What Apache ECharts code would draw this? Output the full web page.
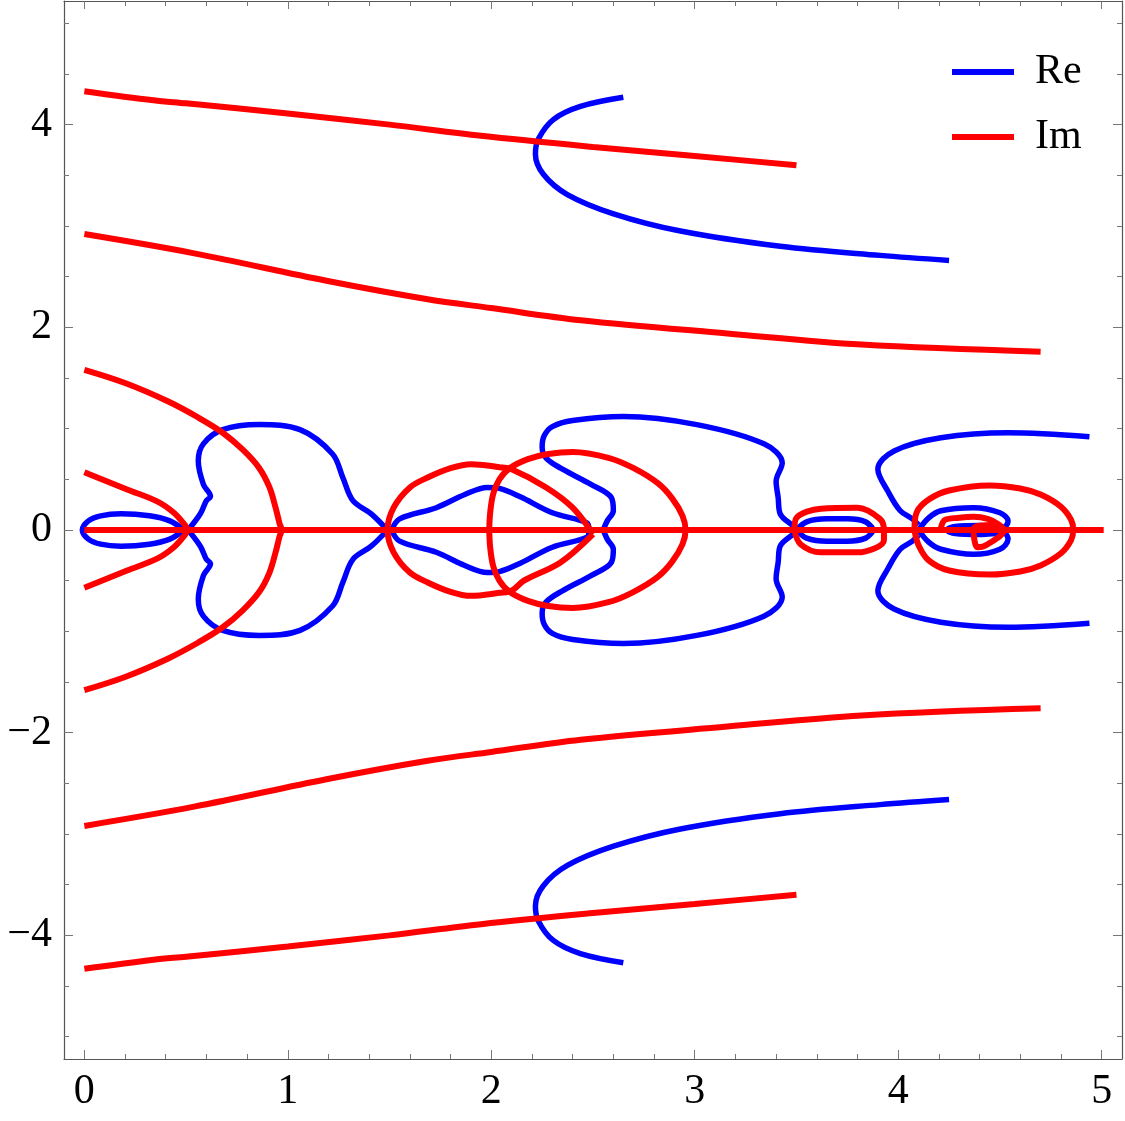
<!DOCTYPE html>
<html>
<head>
<meta charset="utf-8">
<script src="https://cdn.jsdelivr.net/npm/echarts@6/dist/echarts.min.js"></script>
<style>html,body{margin:0;padding:0;background:#fff}#c{width:1125px;height:1121px}</style>
</head>
<body>
<div id="c"></div>
<script>
// ---------- axis data ----------
const xRange = [-0.1, 5.1];
const yRange = [-5.22, 5.22];
const xMajor = [0, 1, 2, 3, 4, 5];
const xMinor = [0.2, 0.4, 0.6, 0.8, 1.2, 1.4, 1.6, 1.8, 2.2, 2.4, 2.6, 2.8, 3.2, 3.4, 3.6, 3.8, 4.2, 4.4, 4.6, 4.8];
const yMajor = [-4, -2, 0, 2, 4];
const yMinor = [-5, -4.5, -3.5, -3, -2.5, -1.5, -1, -0.5, 0.5, 1, 1.5, 2.5, 3, 3.5, 4.5, 5];
const legendNames = ['Re', 'Im'];

// ---------- Re = 0 contours (blue) ----------
const reTop = [[2.649,4.27],[2.438,4.18],[2.305,4.05],[2.232,3.86],[2.217,3.71],[2.256,3.51],[2.374,3.31],[2.601,3.12],[2.93,2.95],[3.42,2.80],[3.91,2.71],[4.25,2.66]];
const reBottom = [[2.649,-4.27],[2.438,-4.18],[2.305,-4.05],[2.232,-3.86],[2.217,-3.71],[2.256,-3.51],[2.374,-3.31],[2.601,-3.12],[2.93,-2.95],[3.42,-2.80],[3.91,-2.71],[4.25,-2.66]];
const reLoop0 = [[0.49,0],[0.42,0.09],[0.32,0.14],[0.18,0.16],[0.08,0.14],[0.02,0.09],[-0.01,0],[0.02,-0.09],[0.08,-0.14],[0.18,-0.16],[0.32,-0.14],[0.42,-0.09],[0.49,0]];
const reLobe1Up = [[0.51,0],[0.57,0.16],[0.60,0.29],[0.62,0.33],[0.585,0.45],[0.56,0.68],[0.585,0.85],[0.68,0.99],[0.86,1.04],[1.06,0.99],[1.22,0.75],[1.27,0.52],[1.32,0.29],[1.41,0.16],[1.49,0]];
const reLobe1Down = [[0.51,0],[0.57,-0.16],[0.60,-0.29],[0.62,-0.33],[0.585,-0.45],[0.56,-0.68],[0.585,-0.85],[0.68,-0.99],[0.86,-1.04],[1.06,-0.99],[1.22,-0.75],[1.27,-0.52],[1.32,-0.29],[1.41,-0.16],[1.49,0]];
const reLobe2Up = [[1.51,0],[1.55,0.11],[1.73,0.22],[1.87,0.35],[1.98,0.42],[2.04,0.41],[2.14,0.33],[2.30,0.17],[2.47,0.07],[2.48,0]];
const reLobe2Down = [[1.51,0],[1.55,-0.11],[1.73,-0.22],[1.87,-0.35],[1.98,-0.42],[2.04,-0.41],[2.14,-0.33],[2.30,-0.17],[2.47,-0.07],[2.48,0]];
const reLobe3Up = [[2.55,0],[2.57,0.09],[2.60,0.19],[2.59,0.32],[2.49,0.45],[2.35,0.60],[2.27,0.71],[2.25,0.82],[2.26,0.93],[2.30,1.02],[2.40,1.08],[2.65,1.12],[3.01,1.04],[3.34,0.85],[3.43,0.66],[3.40,0.48],[3.41,0.32],[3.42,0.16],[3.49,0.03],[3.50,0]];
const reLobe3Down = [[2.55,0],[2.57,-0.09],[2.60,-0.19],[2.59,-0.32],[2.49,-0.45],[2.35,-0.60],[2.27,-0.71],[2.25,-0.82],[2.26,-0.93],[2.30,-1.02],[2.40,-1.08],[2.65,-1.12],[3.01,-1.04],[3.34,-0.85],[3.43,-0.66],[3.40,-0.48],[3.41,-0.32],[3.42,-0.16],[3.49,-0.03],[3.50,0]];
const reOvalUp = [[3.50,0],[3.55,0.08],[3.65,0.11],[3.75,0.11],[3.84,0.08],[3.88,0]];
const reOvalDown = [[3.50,0],[3.55,-0.08],[3.65,-0.11],[3.75,-0.11],[3.84,-0.08],[3.88,0]];
const reArmUp = [[4.10,0.05],[4.07,0.11],[4.01,0.19],[3.95,0.38],[3.90,0.60],[3.98,0.78],[4.21,0.91],[4.54,0.96],[4.94,0.92]];
const reArmDown = [[4.10,-0.05],[4.07,-0.11],[4.01,-0.19],[3.95,-0.38],[3.90,-0.60],[3.98,-0.78],[4.21,-0.91],[4.54,-0.96],[4.94,-0.92]];
const reInner = [[4.10,0],[4.15,0.12],[4.21,0.19],[4.37,0.22],[4.50,0.17],[4.54,0.09],[4.52,0.03],[4.40,0.045],[4.28,0.035],[4.24,0],[4.28,-0.035],[4.40,-0.045],[4.52,-0.03],[4.54,-0.09],[4.50,-0.19],[4.37,-0.24],[4.21,-0.19],[4.15,-0.12],[4.10,0]];

// ---------- Im = 0 contours (red) ----------
const imTop1 = [[0,4.33],[0.34,4.24],[0.5,4.21],[1.0,4.11],[1.5,4.00],[1.95,3.89],[2.5,3.78],[3.0,3.69],[3.5,3.60]];
const imBottom1 = [[0,-4.33],[0.34,-4.24],[0.5,-4.21],[1.0,-4.11],[1.5,-4.00],[1.95,-3.89],[2.5,-3.78],[3.0,-3.69],[3.5,-3.60]];
const imTop2 = [[0,2.92],[0.54,2.73],[1.19,2.46],[1.68,2.28],[2.0,2.19],[2.44,2.07],[3.16,1.94],[3.82,1.83],[4.70,1.76]];
const imBottom2 = [[0,-2.92],[0.54,-2.73],[1.19,-2.46],[1.68,-2.28],[2.0,-2.19],[2.44,-2.07],[3.16,-1.94],[3.82,-1.83],[4.70,-1.76]];
const imArc = [[0,1.58],[0.2,1.45],[0.41,1.27],[0.56,1.11],[0.68,0.96],[0.78,0.79],[0.86,0.61],[0.91,0.42],[0.94,0.22],[0.96,0.06],[0.97,0],[0.96,-0.06],[0.94,-0.22],[0.91,-0.42],[0.86,-0.61],[0.78,-0.79],[0.68,-0.96],[0.56,-1.11],[0.41,-1.27],[0.2,-1.45],[0,-1.58]];
const imSmallUp = [[0,0.57],[0.21,0.40],[0.36,0.28],[0.44,0.17],[0.49,0.06],[0.51,0]];
const imSmallDown = [[0,-0.57],[0.21,-0.40],[0.36,-0.28],[0.44,-0.17],[0.49,-0.06],[0.51,0]];
const imAxis = [[0,0],[5.01,0]];
const imLoopA = [[2.50,-0.04],[2.40,0.22],[2.27,0.42],[2.10,0.60],[2.04,0.62],[1.90,0.65],[1.80,0.61],[1.69,0.52],[1.60,0.42],[1.52,0.22],[1.49,0],[1.52,-0.22],[1.60,-0.42],[1.69,-0.52],[1.80,-0.61],[1.90,-0.65],[2.04,-0.62],[2.10,-0.60],[2.16,-0.50],[2.34,-0.32],[2.50,-0.04]];
const imCircleB = [[1.99,0],[1.995,0.18],[2.01,0.36],[2.04,0.50],[2.09,0.61],[2.18,0.70],[2.28,0.75],[2.40,0.77],[2.58,0.71],[2.70,0.61],[2.82,0.46],[2.89,0.31],[2.94,0.14],[2.955,0],[2.94,-0.14],[2.89,-0.31],[2.82,-0.46],[2.70,-0.61],[2.58,-0.71],[2.40,-0.77],[2.28,-0.75],[2.18,-0.70],[2.09,-0.61],[2.04,-0.50],[2.01,-0.36],[1.995,-0.18],[1.99,0]];
const imOval = [[3.49,0],[3.50,0.12],[3.62,0.21],[3.80,0.22],[3.91,0.11],[3.93,0],[3.93,-0.10],[3.80,-0.22],[3.62,-0.22],[3.52,-0.14],[3.49,0]];
const imCircleC = [[4.08,0],[4.09,0.17],[4.15,0.30],[4.25,0.39],[4.45,0.44],[4.60,0.41],[4.70,0.35],[4.80,0.23],[4.85,0.10],[4.86,0],[4.85,-0.10],[4.80,-0.23],[4.70,-0.35],[4.60,-0.41],[4.45,-0.44],[4.25,-0.40],[4.15,-0.30],[4.10,-0.15],[4.08,0]];
const imInner = [[4.21,0.02],[4.23,0.10],[4.30,0.12],[4.37,0.13],[4.44,0.11],[4.49,0.06],[4.52,0],[4.44,-0.14],[4.39,-0.17],[4.37,0.01],[4.47,0.05],[4.50,0]];

const reCurves = [reTop, reBottom, reLoop0, reLobe1Up, reLobe1Down, reLobe2Up, reLobe2Down, reLobe3Up, reLobe3Down, reOvalUp, reOvalDown, reArmUp, reArmDown, reInner];
const imCurves = [imTop1, imBottom1, imTop2, imBottom2, imArc, imSmallUp, imSmallDown, imAxis, imLoopA, imCircleB, imOval, imCircleC, imInner];

// ---------- chart ----------
const FONT = 'Liberation Serif';
const AXIS_COLOR = '#555';
const TICK_COLOR = '#777';
const fmt = v => (v < 0 ? '\u2212' + Math.abs(v) : String(v));

function xAx(pos, ticks, len, withLabel, withLine) {
  return {
    type: 'value', min: xRange[0], max: xRange[1], position: pos,
    axisLine: { show: withLine, onZero: false, lineStyle: { color: AXIS_COLOR, width: 1.2 } },
    axisTick: { show: true, inside: true, length: len, customValues: ticks, lineStyle: { color: TICK_COLOR, width: 1 } },
    axisLabel: withLabel ? { show: true, customValues: ticks, formatter: fmt, margin: 12, fontFamily: FONT, fontSize: 42, color: '#000' } : { show: false },
    splitLine: { show: false }
  };
}
function yAx(pos, ticks, len, withLabel, withLine) {
  return {
    type: 'value', min: yRange[0], max: yRange[1], position: pos,
    axisLine: { show: withLine, onZero: false, lineStyle: { color: AXIS_COLOR, width: 1.2 } },
    axisTick: { show: true, inside: true, length: len, customValues: ticks, lineStyle: { color: TICK_COLOR, width: 1 } },
    axisLabel: withLabel ? { show: true, customValues: ticks, formatter: fmt, margin: 12, fontFamily: FONT, fontSize: 42, color: '#000' } : { show: false },
    splitLine: { show: false }
  };
}

const series = [];
reCurves.forEach(c => series.push({
  name: 'Re', type: 'line', data: c, showSymbol: false, smooth: 0.35,
  lineStyle: { color: '#0000ff', width: 5.5 }, itemStyle: { color: '#0000ff' }, z: 2
}));
imCurves.forEach(c => series.push({
  name: 'Im', type: 'line', data: c, showSymbol: false, smooth: c === imAxis ? false : 0.35,
  lineStyle: { color: '#ff0000', width: 6 }, itemStyle: { color: '#ff0000' }, z: 3
}));

const chart = echarts.init(document.getElementById('c'), null, { renderer: 'canvas' });
chart.setOption({
  animation: false,
  backgroundColor: '#fff',
  grid: { left: 64, right: 3, top: 1, bottom: 62, containLabel: false },
  xAxis: [
    xAx('bottom', xMajor, 9, true, true),
    xAx('bottom', xMinor, 5, false, false),
    xAx('top', xMajor, 8, false, true),
    xAx('top', xMinor, 5, false, false)
  ],
  yAxis: [
    yAx('left', yMajor, 9, true, true),
    yAx('left', yMinor, 5, false, false),
    yAx('right', yMajor, 9, false, true),
    yAx('right', yMinor, 5, false, false)
  ],
  legend: {
    data: legendNames, orient: 'vertical', left: 952, top: 51, padding: 0,
    itemWidth: 62, itemHeight: 6, itemGap: 23, icon: 'rect',
    textStyle: { fontFamily: FONT, fontSize: 42, color: '#000', padding: [0, 0, 0, 16] }
  },
  series: series
});
</script>
</body>
</html>
